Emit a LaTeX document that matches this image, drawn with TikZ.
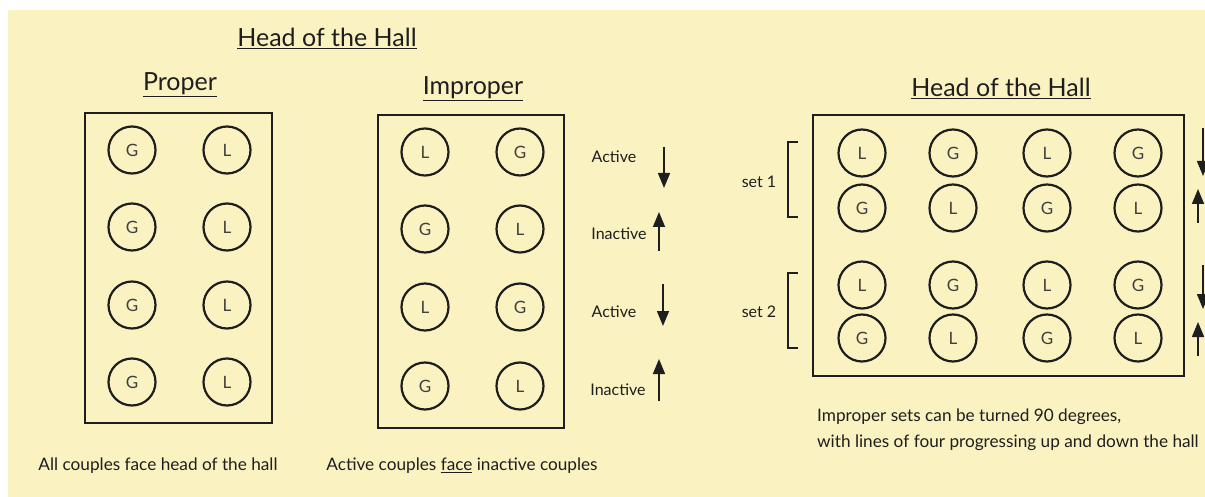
\documentclass[tikz,border=0pt]{standalone}
\usepackage{fontspec}
\setmainfont{Lato}
\usetikzlibrary{arrows.meta}
\definecolor{bg}{HTML}{FAF3C1}
\definecolor{ink}{HTML}{1E1E1E}
\begin{document}
\begin{tikzpicture}[x=1pt,y=-1pt,
  dancer/.style={circle,draw=ink,line width=2.2pt,minimum size=47pt,inner sep=0pt,font=\fontsize{17}{17}\selectfont,text=ink!85},
  hall/.style={draw=ink,line width=2.8pt},
  lbl/.style={font=\fontsize{16}{19}\selectfont,text=ink,inner sep=0pt},
  capt/.style={font=\fontsize{17.2}{20}\selectfont,text=ink,inner sep=0pt},
  head/.style={font=\fontsize{25}{28}\selectfont,text=ink,inner sep=0pt,anchor=base},
  move/.style={draw=ink,line width=1.6pt,-{Triangle[width=12pt,length=15pt]}},
  brk/.style={draw=ink,line width=1.3pt}]
\useasboundingbox (0,0) rectangle (1205,497);
\fill[white] (0,0) rectangle (1205,497);
\fill[bg] (8,10) rectangle (1205,497);

% headings
\node[head] (title) at (327,47) {\underline{Head of the Hall}};
\node[head] (proper) at (180,91) {\underline{Proper}};
\node[head] (improper) at (473,95) {\underline{Improper}};
\node[head] (title2) at (1001,97) {\underline{Head of the Hall}};

% proper
\draw[hall] (85,113) rectangle (272,423);
\foreach \y/\i in {150/1,227/2,305/3,382/4}{
  \node[dancer] (pg\i) at (132,\y) {G};
  \node[dancer] (pl\i) at (227,\y) {L};
}

% improper
\draw[hall] (378,115) rectangle (564,428);
\node[dancer] (ia1) at (425,152) {L};
\node[dancer] (ib1) at (520,152) {G};
\node[dancer] (ia2) at (425,229) {G};
\node[dancer] (ib2) at (520,229) {L};
\node[dancer] (ia3) at (425,307) {L};
\node[dancer] (ib3) at (520,307) {G};
\node[dancer] (ia4) at (425,386) {G};
\node[dancer] (ib4) at (520,386) {L};

\node[lbl] (act1) at (614,157) {Active};
\node[lbl] (ina1) at (619,234) {Inactive};
\node[lbl] (act2) at (614,312) {Active};
\node[lbl] (ina2) at (618,390) {Inactive};
\coordinate (a1s) at (664,147); \coordinate (a1e) at (664,188);
\coordinate (a2s) at (659,251); \coordinate (a2e) at (659,212);
\coordinate (a3s) at (663,284); \coordinate (a3e) at (663,326);
\coordinate (a4s) at (659,401); \coordinate (a4e) at (659,359);
\draw[move] (a1s) -- (a1e);
\draw[move] (a2s) -- (a2e);
\draw[move] (a3s) -- (a3e);
\draw[move] (a4s) -- (a4e);

% right panel
\draw[hall] (813,115) rectangle (1184,376);
\foreach \x/\c in {862/1,953/2,1047/3,1138/4}{
  \pgfmathsetmacro{\odd}{mod(\c,2)}
  \ifdim\odd pt>0.5pt
    \node[dancer] (r1\c) at (\x,153) {L};
    \node[dancer] (r2\c) at (\x,208) {G};
    \node[dancer] (r3\c) at (\x,285) {L};
    \node[dancer] (r4\c) at (\x,338) {G};
  \else
    \node[dancer] (r1\c) at (\x,153) {G};
    \node[dancer] (r2\c) at (\x,208) {L};
    \node[dancer] (r3\c) at (\x,285) {G};
    \node[dancer] (r4\c) at (\x,338) {L};
  \fi
}
\draw[brk] (798,142) -- (788,142) -- (788,217) -- (798,217);
\draw[brk] (798,273) -- (788,273) -- (788,348) -- (798,348);
\node[lbl] (set1) at (759,182) {set 1};
\node[lbl] (set2) at (759,312) {set 2};
\coordinate (b1s) at (1203,128); \coordinate (b1e) at (1203,176);
\coordinate (b2s) at (1198,223); \coordinate (b2e) at (1198,189);
\coordinate (b3s) at (1203,265); \coordinate (b3e) at (1203,309);
\coordinate (b4s) at (1198,356); \coordinate (b4e) at (1198,322);
\draw[move] (b1s) -- (b1e);
\draw[move] (b2s) -- (b2e);
\draw[move] (b3s) -- (b3e);
\draw[move] (b4s) -- (b4e);

% captions
\node[capt] (cap1) at (158,466) {All couples face head of the hall};
\node[capt] (cap2) at (462,466) {Active couples \underline{face} inactive couples};
\node[capt,anchor=west,align=left] (cap3a) at (817,417) {Improper sets can be turned 90 degrees,};
\node[capt,anchor=west,align=left] (cap3b) at (817,443) {with lines of four progressing up and down the hall};
\end{tikzpicture}
\end{document}
